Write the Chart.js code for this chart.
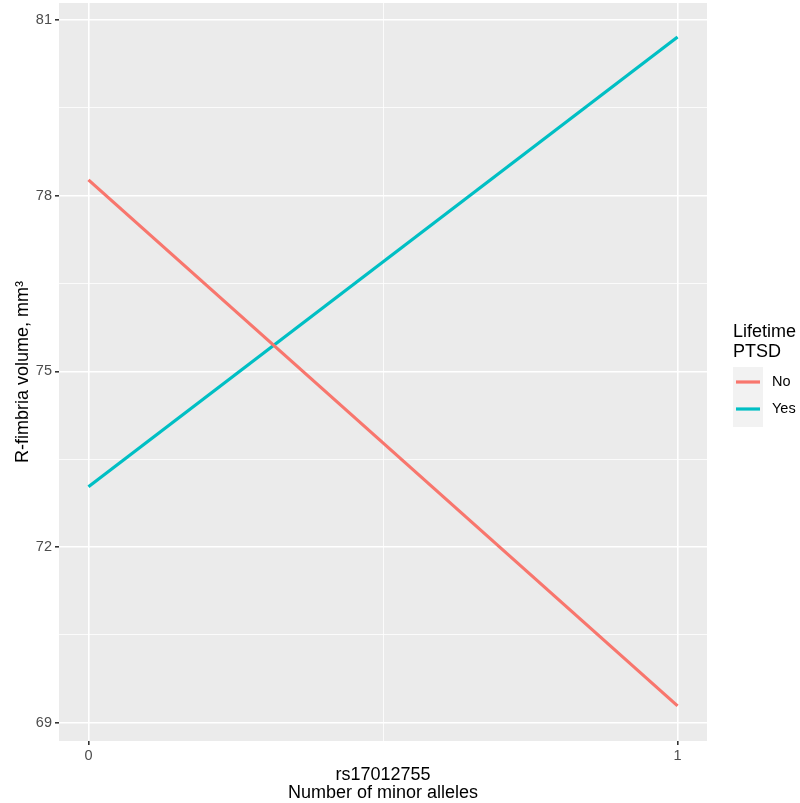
<!DOCTYPE html>
<html>
<head>
<meta charset="utf-8">
<script src="https://cdn.jsdelivr.net/npm/chart.js@4"></script>
<style>
  html, body { margin: 0; padding: 0; background: #fff; }
  #wrap { width: 800px; height: 803px; position: relative; }
</style>
</head>
<body>
<div id="wrap"><canvas id="chart" width="800" height="803"></canvas></div>
<script>
// data
const alleles = [0, 1];
const noPTSD = [78.27, 69.29];
const yesPTSD = [73.03, 80.71];
const seriesNames = ['No', 'Yes'];
const yTicks = [69, 72, 75, 78, 81];
const yMinor = [70.5, 73.5, 76.5, 79.5];
const xTicks = [0, 1];
const xMinor = [0.5];

const colors = ['#F8766D', '#00BFC4'];
const font = 'Arial, "Liberation Sans", sans-serif';

// grey panel background like ggplot
const panelBg = {
    id: 'panelBg',
    beforeDraw(chart) {
        const a = chart.chartArea;
        const ctx = chart.ctx;
        ctx.save();
        ctx.fillStyle = '#EBEBEB';
        ctx.fillRect(a.left, a.top, a.right - a.left, a.bottom - a.top);
        ctx.restore();
    }
};

// legend on the right side
const sideLegend = {
    id: 'sideLegend',
    afterDraw(chart) {
        const ctx = chart.ctx;
        const cy = (chart.chartArea.top + chart.chartArea.bottom) / 2;
        ctx.save();
        ctx.fillStyle = '#000';
        ctx.font = '18px ' + font;
        ctx.textBaseline = 'middle';
        ctx.textAlign = 'left';
        ctx.fillText('Lifetime', 733, cy - 40);
        ctx.fillText('PTSD', 733, cy - 20);
        ctx.fillStyle = '#F2F2F2';
        ctx.fillRect(733, cy - 5, 30, 60);
        ctx.font = '14.5px ' + font;
        chart.data.datasets.forEach((ds, i) => {
            const y = cy + 10 + i * 27;
            ctx.strokeStyle = ds.borderColor;
            ctx.lineWidth = 3.2;
            ctx.beginPath();
            ctx.moveTo(736, y);
            ctx.lineTo(760, y);
            ctx.stroke();
            ctx.fillStyle = '#000';
            ctx.fillText(ds.label, 772, y);
        });
        ctx.restore();
    }
};

const isMajor = (v, list) => list.includes(v);

new Chart(document.getElementById('chart'), {
    type: 'line',
    data: {
        datasets: [
            { label: seriesNames[0], data: alleles.map((x, i) => ({ x: x, y: noPTSD[i] })), borderColor: colors[0], backgroundColor: colors[0] },
            { label: seriesNames[1], data: alleles.map((x, i) => ({ x: x, y: yesPTSD[i] })), borderColor: colors[1], backgroundColor: colors[1] }
        ]
    },
    options: {
        responsive: false,
        animation: false,
        layout: { padding: { top: 3, right: 93, bottom: 0, left: 0 } },
        elements: {
            line: { borderWidth: 3.2, tension: 0 },
            point: { radius: 0 }
        },
        plugins: {
            legend: { display: false },
            tooltip: { enabled: false }
        },
        scales: {
            x: {
                type: 'linear',
                min: -0.05,
                max: 1.05,
                afterBuildTicks: s => { s.ticks = xTicks.concat(xMinor).map(v => ({ value: v })); },
                afterFit: s => { s.height = 62; s.paddingLeft = 0; s.paddingRight = 0; },
                border: { display: false },
                grid: {
                    color: '#FFFFFF',
                    lineWidth: c => isMajor(c.tick.value, xTicks) ? 1.6 : 0.8,
                    tickColor: c => isMajor(c.tick.value, xTicks) ? '#333333' : 'rgba(0,0,0,0)',
                    tickLength: 4,
                    drawOnChartArea: true
                },
                ticks: {
                    autoSkip: false,
                    maxRotation: 0,
                    padding: 2,
                    color: '#4D4D4D',
                    font: { family: font, size: 14.5 },
                    callback: v => isMajor(v, xTicks) ? String(v) : ''
                },
                title: {
                    display: true,
                    text: ['rs17012755', 'Number of minor alleles'],
                    color: '#000',
                    font: { family: font, size: 18, lineHeight: 1.0 },
                    padding: { top: 4, bottom: 1 }
                }
            },
            y: {
                type: 'linear',
                min: 68.69,
                max: 81.29,
                afterBuildTicks: s => { s.ticks = yTicks.concat(yMinor).map(v => ({ value: v })); },
                afterFit: s => { s.width = 59; s.paddingTop = 0; s.paddingBottom = 0; },
                border: { display: false },
                grid: {
                    color: '#FFFFFF',
                    lineWidth: c => isMajor(c.tick.value, yTicks) ? 1.6 : 0.8,
                    tickColor: c => isMajor(c.tick.value, yTicks) ? '#333333' : 'rgba(0,0,0,0)',
                    tickLength: 4
                },
                ticks: {
                    autoSkip: false,
                    padding: 3,
                    color: '#4D4D4D',
                    font: { family: font, size: 14.5 },
                    callback: v => isMajor(v, yTicks) ? String(v) : ''
                },
                title: {
                    display: true,
                    text: 'R-fimbria volume, mm³',
                    color: '#000',
                    font: { family: font, size: 18 },
                    padding: { top: 12, bottom: 0 }
                }
            }
        }
    },
    plugins: [panelBg, sideLegend]
});
</script>
</body>
</html>
